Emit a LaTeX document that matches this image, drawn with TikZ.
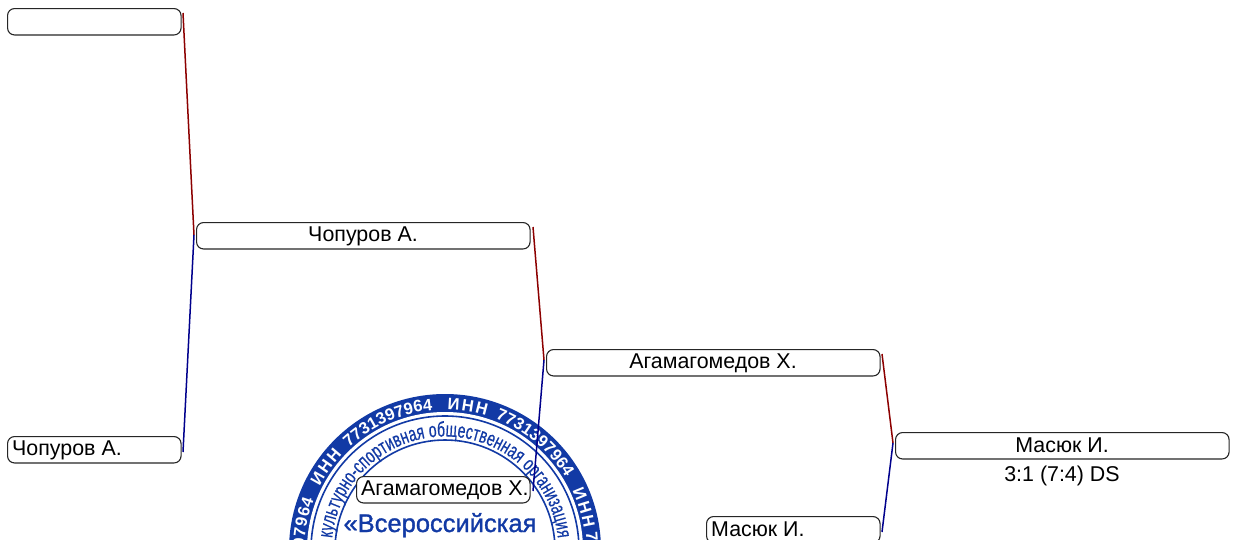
\documentclass[tikz,border=0pt]{standalone}
\usepackage{fontspec}
\setmainfont{Liberation Sans}
\newfontfamily\stampnarrow[FakeStretch=0.66,FakeBold=0.4]{Liberation Sans}
\newfontfamily\stamphead[FakeBold=1.2]{Liberation Sans}
\usetikzlibrary{decorations.text}
\definecolor{stampblue}{RGB}{18,58,165}
\definecolor{lred}{RGB}{140,0,0}
\definecolor{lblue}{RGB}{0,0,140}
\tikzset{
  slot/.style={draw=black!85,line width=1.1pt,rounded corners=7pt,fill=white,inner sep=0pt,anchor=north west,minimum height=26.4pt},
  short/.style={slot,minimum width=173.5pt},
  long/.style={slot,minimum width=333.5pt},
  lab/.style={inner sep=0pt,font=\fontsize{21.4}{25}\selectfont},
  redline/.style={draw=lred,line width=1.5pt},
  blueline/.style={draw=lblue,line width=1.5pt},
}
% pic-angle a1 -> a2 (clockwise over the top), white bold band text
\newcommand{\bandtext}[3]{%
  \path[decorate,decoration={text along path,text align={fit to path},
    text={|\fontsize{16.5}{19}\selectfont\bfseries\color{white}|#3}}]
    (445,550) ++(-#1:140.5) arc[start angle=-#1,end angle=-#2,radius=140.5];}
\begin{document}
\begin{tikzpicture}[x=1pt,y=-1pt]
\useasboundingbox (0,0) rectangle (1238,539);
\begin{scope}
\clip (0,0) rectangle (1238,539);
% stamp
\fill[stampblue] (445,550) circle (156);
\fill[white] (445,550) circle (138);
\draw[stampblue,line width=1.6pt] (445,550) circle (134);
\draw[stampblue,line width=1.6pt] (445,550) circle (110);
\bandtext{183}{159}{397964}
\bandtext{153}{137}{ИНН}
\bandtext{133}{95}{7731397964}
\bandtext{89}{73}{ИНН}
\bandtext{69}{31}{7731397964}
\bandtext{25}{9}{ИНН}
\node[rotate=-85,inner sep=0pt,text=white,font=\fontsize{16.5}{19}\selectfont\bfseries] (stamp7) at (592,537) {7};
\path[decorate,decoration={text along path,text align={fit to path},
  text={|\fontsize{21}{23}\selectfont\stampnarrow\color{stampblue}|культурно-спортивная общественная организация}}]
  (445,550) ++(-174:113.5) arc[start angle=-174,end angle=-6,radius=113.5];
\node[text=stampblue,font=\fontsize{25.5}{30}\selectfont\stamphead,inner sep=0pt,anchor=base] (stamptitle) at (440,532) {«Всероссийская};
\end{scope}
% boxes
\node[short] (a) at (7,8) {};
\node[short] (b) at (7,436) {};
\node[lab,anchor=west] (bt) at (12,450) {Чопуров А.};
\node[long] (c) at (196,222) {};
\node[lab] (ct) at (363,236) {Чопуров А.};
\node[short] (d) at (356,476) {};
\node[lab,anchor=west] (dt) at (361,490) {Агамагомедов Х.};
\node[long] (e) at (546,349) {};
\node[lab] (et) at (713,363) {Агамагомедов Х.};
\node[short] (f) at (706,516) {};
\node[lab,anchor=west] (ft) at (711,529) {Масюк И.};
\node[long] (g) at (895,432) {};
\node[lab] (gt) at (1062,445) {Масюк И.};
\node[lab] (gs) at (1062,475.5) {3:1 (7:4) DS};
% connector ends
\coordinate (a1) at (183,13);
\coordinate (b1) at (183,452);
\coordinate (m1) at (194,235);
\coordinate (c1) at (533,227);
\coordinate (d1) at (533,491);
\coordinate (m2) at (544,360);
\coordinate (e1) at (882,354);
\coordinate (f1) at (882,532);
\coordinate (m3) at (893,443);
\draw[redline] (a1) -- (m1);
\draw[blueline] (b1) -- (m1);
\draw[redline] (c1) -- (m2);
\draw[blueline] (d1) -- (m2);
\draw[redline] (e1) -- (m3);
\draw[blueline] (f1) -- (m3);
\end{tikzpicture}
\end{document}
